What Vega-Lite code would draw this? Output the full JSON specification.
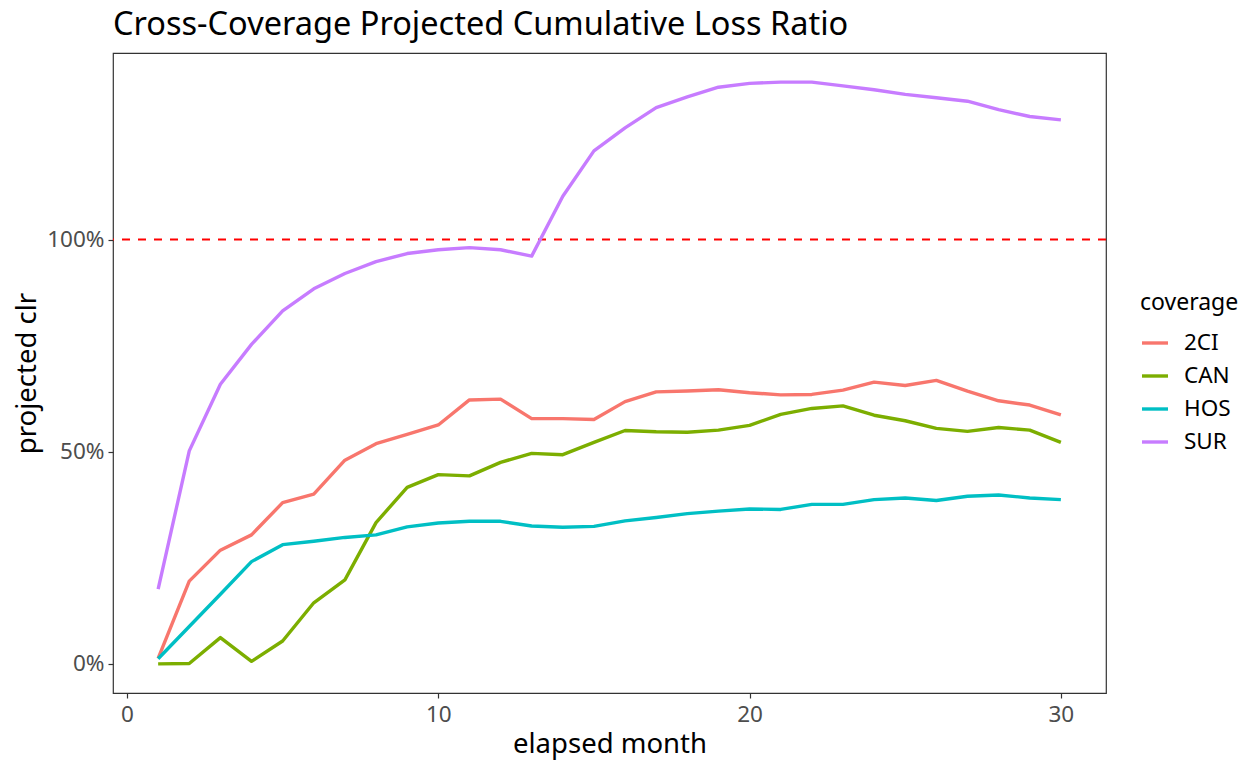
{
  "$schema": "https://vega.github.io/schema/vega-lite/v6.json",
  "autosize": {"type": "none"},
  "padding": {"left": 113, "top": 53, "right": 154, "bottom": 77},
  "width": 993,
  "height": 640,
  "background": "white",
  "title": {"text": "Cross-Coverage Projected Cumulative Loss Ratio", "anchor": "start", "frame": "group", "font": "Noto Sans", "fontSize": 32.5, "fontWeight": "normal", "color": "black", "offset": 12},
  "config": {
    "font": "Noto Sans",
    "view": {"stroke": "#333333", "strokeWidth": 1.2},
    "axis": {"grid": false, "domain": false, "tickColor": "#333333", "tickSize": 5, "tickWidth": 1.2, "labelColor": "#4D4D4D", "labelFontSize": 22.5, "labelFont": "Noto Sans", "titleFont": "Noto Sans", "titleFontSize": 27.5, "titleFontWeight": "normal", "titleColor": "black"},
    "legend": {"titleFont": "Noto Sans", "labelFont": "Noto Sans"}
  },
  "datasets": {
    "clr": [
      {"month": 1, "coverage": "2CI", "clr": 0.013}, {"month": 2, "coverage": "2CI", "clr": 0.195}, {"month": 3, "coverage": "2CI", "clr": 0.268}, {"month": 4, "coverage": "2CI", "clr": 0.304}, {"month": 5, "coverage": "2CI", "clr": 0.380}, {"month": 6, "coverage": "2CI", "clr": 0.400}, {"month": 7, "coverage": "2CI", "clr": 0.480}, {"month": 8, "coverage": "2CI", "clr": 0.519}, {"month": 9, "coverage": "2CI", "clr": 0.541}, {"month": 10, "coverage": "2CI", "clr": 0.563},
      {"month": 11, "coverage": "2CI", "clr": 0.622}, {"month": 12, "coverage": "2CI", "clr": 0.624}, {"month": 13, "coverage": "2CI", "clr": 0.578}, {"month": 14, "coverage": "2CI", "clr": 0.578}, {"month": 15, "coverage": "2CI", "clr": 0.576}, {"month": 16, "coverage": "2CI", "clr": 0.618}, {"month": 17, "coverage": "2CI", "clr": 0.641}, {"month": 18, "coverage": "2CI", "clr": 0.643}, {"month": 19, "coverage": "2CI", "clr": 0.646}, {"month": 20, "coverage": "2CI", "clr": 0.639},
      {"month": 21, "coverage": "2CI", "clr": 0.634}, {"month": 22, "coverage": "2CI", "clr": 0.635}, {"month": 23, "coverage": "2CI", "clr": 0.645}, {"month": 24, "coverage": "2CI", "clr": 0.664}, {"month": 25, "coverage": "2CI", "clr": 0.656}, {"month": 26, "coverage": "2CI", "clr": 0.668}, {"month": 27, "coverage": "2CI", "clr": 0.643}, {"month": 28, "coverage": "2CI", "clr": 0.620}, {"month": 29, "coverage": "2CI", "clr": 0.610}, {"month": 30, "coverage": "2CI", "clr": 0.587},
      {"month": 1, "coverage": "CAN", "clr": 0.0}, {"month": 2, "coverage": "CAN", "clr": 0.001}, {"month": 3, "coverage": "CAN", "clr": 0.062}, {"month": 4, "coverage": "CAN", "clr": 0.006}, {"month": 5, "coverage": "CAN", "clr": 0.054}, {"month": 6, "coverage": "CAN", "clr": 0.144}, {"month": 7, "coverage": "CAN", "clr": 0.198}, {"month": 8, "coverage": "CAN", "clr": 0.333}, {"month": 9, "coverage": "CAN", "clr": 0.416}, {"month": 10, "coverage": "CAN", "clr": 0.446},
      {"month": 11, "coverage": "CAN", "clr": 0.443}, {"month": 12, "coverage": "CAN", "clr": 0.475}, {"month": 13, "coverage": "CAN", "clr": 0.496}, {"month": 14, "coverage": "CAN", "clr": 0.493}, {"month": 15, "coverage": "CAN", "clr": 0.522}, {"month": 16, "coverage": "CAN", "clr": 0.550}, {"month": 17, "coverage": "CAN", "clr": 0.547}, {"month": 18, "coverage": "CAN", "clr": 0.546}, {"month": 19, "coverage": "CAN", "clr": 0.551}, {"month": 20, "coverage": "CAN", "clr": 0.562},
      {"month": 21, "coverage": "CAN", "clr": 0.588}, {"month": 22, "coverage": "CAN", "clr": 0.602}, {"month": 23, "coverage": "CAN", "clr": 0.608}, {"month": 24, "coverage": "CAN", "clr": 0.586}, {"month": 25, "coverage": "CAN", "clr": 0.573}, {"month": 26, "coverage": "CAN", "clr": 0.555}, {"month": 27, "coverage": "CAN", "clr": 0.548}, {"month": 28, "coverage": "CAN", "clr": 0.557}, {"month": 29, "coverage": "CAN", "clr": 0.551}, {"month": 30, "coverage": "CAN", "clr": 0.522},
      {"month": 1, "coverage": "HOS", "clr": 0.012}, {"month": 2, "coverage": "HOS", "clr": 0.088}, {"month": 3, "coverage": "HOS", "clr": 0.164}, {"month": 4, "coverage": "HOS", "clr": 0.241}, {"month": 5, "coverage": "HOS", "clr": 0.281}, {"month": 6, "coverage": "HOS", "clr": 0.289}, {"month": 7, "coverage": "HOS", "clr": 0.298}, {"month": 8, "coverage": "HOS", "clr": 0.304}, {"month": 9, "coverage": "HOS", "clr": 0.323}, {"month": 10, "coverage": "HOS", "clr": 0.332},
      {"month": 11, "coverage": "HOS", "clr": 0.336}, {"month": 12, "coverage": "HOS", "clr": 0.336}, {"month": 13, "coverage": "HOS", "clr": 0.325}, {"month": 14, "coverage": "HOS", "clr": 0.322}, {"month": 15, "coverage": "HOS", "clr": 0.324}, {"month": 16, "coverage": "HOS", "clr": 0.337}, {"month": 17, "coverage": "HOS", "clr": 0.345}, {"month": 18, "coverage": "HOS", "clr": 0.354}, {"month": 19, "coverage": "HOS", "clr": 0.360}, {"month": 20, "coverage": "HOS", "clr": 0.365},
      {"month": 21, "coverage": "HOS", "clr": 0.364}, {"month": 22, "coverage": "HOS", "clr": 0.376}, {"month": 23, "coverage": "HOS", "clr": 0.376}, {"month": 24, "coverage": "HOS", "clr": 0.387}, {"month": 25, "coverage": "HOS", "clr": 0.391}, {"month": 26, "coverage": "HOS", "clr": 0.385}, {"month": 27, "coverage": "HOS", "clr": 0.395}, {"month": 28, "coverage": "HOS", "clr": 0.398}, {"month": 29, "coverage": "HOS", "clr": 0.391}, {"month": 30, "coverage": "HOS", "clr": 0.387},
      {"month": 1, "coverage": "SUR", "clr": 0.176}, {"month": 2, "coverage": "SUR", "clr": 0.502}, {"month": 3, "coverage": "SUR", "clr": 0.659}, {"month": 4, "coverage": "SUR", "clr": 0.753}, {"month": 5, "coverage": "SUR", "clr": 0.832}, {"month": 6, "coverage": "SUR", "clr": 0.884}, {"month": 7, "coverage": "SUR", "clr": 0.920}, {"month": 8, "coverage": "SUR", "clr": 0.948}, {"month": 9, "coverage": "SUR", "clr": 0.967}, {"month": 10, "coverage": "SUR", "clr": 0.976},
      {"month": 11, "coverage": "SUR", "clr": 0.981}, {"month": 12, "coverage": "SUR", "clr": 0.976}, {"month": 13, "coverage": "SUR", "clr": 0.961}, {"month": 14, "coverage": "SUR", "clr": 1.102}, {"month": 15, "coverage": "SUR", "clr": 1.209}, {"month": 16, "coverage": "SUR", "clr": 1.263}, {"month": 17, "coverage": "SUR", "clr": 1.311}, {"month": 18, "coverage": "SUR", "clr": 1.336}, {"month": 19, "coverage": "SUR", "clr": 1.359}, {"month": 20, "coverage": "SUR", "clr": 1.368},
      {"month": 21, "coverage": "SUR", "clr": 1.371}, {"month": 22, "coverage": "SUR", "clr": 1.371}, {"month": 23, "coverage": "SUR", "clr": 1.362}, {"month": 24, "coverage": "SUR", "clr": 1.353}, {"month": 25, "coverage": "SUR", "clr": 1.342}, {"month": 26, "coverage": "SUR", "clr": 1.334}, {"month": 27, "coverage": "SUR", "clr": 1.326}, {"month": 28, "coverage": "SUR", "clr": 1.306}, {"month": 29, "coverage": "SUR", "clr": 1.290}, {"month": 30, "coverage": "SUR", "clr": 1.282}
    ],
    "ref": [{"threshold": 1}]
  },
  "layer": [
    {
      "data": {"name": "ref"},
      "mark": {"type": "rule", "color": "#FF0000", "strokeWidth": 2, "strokeDash": [8, 8]},
      "encoding": {"y": {"field": "threshold", "type": "quantitative", "scale": {"domain": [-0.0686, 1.4396], "nice": false, "zero": false}}}
    },
    {
      "data": {"name": "clr"},
      "mark": {"type": "line", "strokeWidth": 3.4, "strokeJoin": "round"},
      "encoding": {
        "x": {"field": "month", "type": "quantitative", "scale": {"domain": [-0.45, 31.45], "nice": false, "zero": false}, "axis": {"values": [0, 10, 20, 30], "title": "elapsed month", "labelPadding": 5, "titlePadding": 5}},
        "y": {"field": "clr", "type": "quantitative", "scale": {"domain": [-0.0686, 1.4396], "nice": false, "zero": false}, "axis": {"values": [0, 0.5, 1], "format": ".0%", "title": "projected clr", "labelPadding": 4, "titlePadding": 5}},
        "color": {"field": "coverage", "type": "nominal", "scale": {"domain": ["2CI", "CAN", "HOS", "SUR"], "range": ["#F8766D", "#7CAE00", "#00BFC4", "#C77CFF"]},
          "legend": {"title": "coverage", "orient": "none", "legendX": 1027, "legendY": 239, "padding": 0, "titleFontSize": 23, "titleFontWeight": "normal", "titleColor": "black", "titlePadding": 13, "labelFontSize": 22.5, "labelColor": "black", "labelOffset": 14, "symbolType": "stroke", "symbolSize": 676, "symbolStrokeWidth": 3.4, "rowPadding": 6}}
      }
    }
  ]
}
